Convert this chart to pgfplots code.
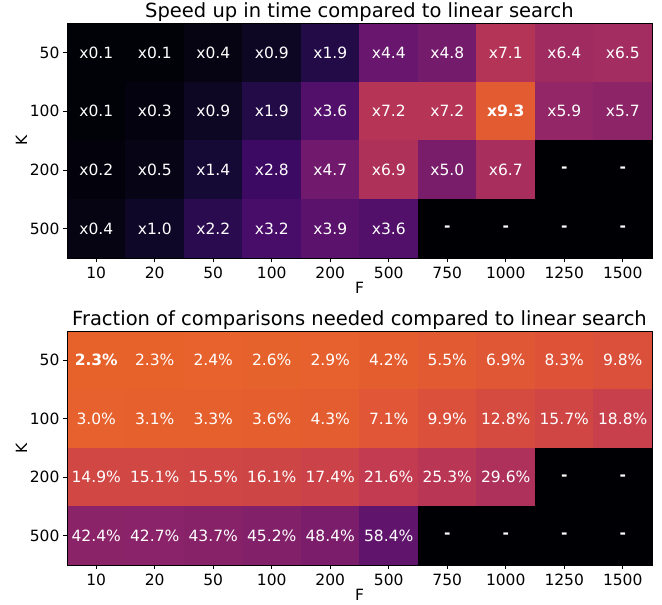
\documentclass[border=0pt]{standalone}
\usepackage{fontspec}
\setmainfont{DejaVu Sans}
\usepackage{pgfplots}
\usepackage{pgfplotstable}
\pgfplotsset{compat=1.18}

\pgfplotsset{
  colormap={inferno}{
    rgb255(0)=(0,0,4)
    rgb255(1)=(22,11,57)
    rgb255(2)=(66,10,104)
    rgb255(3)=(106,23,110)
    rgb255(4)=(147,38,103)
    rgb255(5)=(188,55,84)
    rgb255(6)=(221,81,58)
    rgb255(7)=(243,120,25)
    rgb255(8)=(252,165,10)
    rgb255(9)=(246,215,70)
    rgb255(10)=(252,255,164)
  }
}

% speed up (x, y, value); missing cells = 0
\pgfplotstableread{
x y c
0 0 0.1
1 0 0.1
2 0 0.4
3 0 0.9
4 0 1.9
5 0 4.4
6 0 4.8
7 0 7.1
8 0 6.4
9 0 6.5
0 1 0.1
1 1 0.3
2 1 0.9
3 1 1.9
4 1 3.6
5 1 7.2
6 1 7.2
7 1 9.3
8 1 5.9
9 1 5.7
0 2 0.2
1 2 0.5
2 2 1.4
3 2 2.8
4 2 4.7
5 2 6.9
6 2 5.0
7 2 6.7
8 2 0
9 2 0
0 3 0.4
1 3 1.0
2 3 2.2
3 3 3.2
4 3 3.9
5 3 3.6
6 3 0
7 3 0
8 3 0
9 3 0
}\speedtable

% fraction of comparisons (percent); missing cells = 100 (meta 100-f = 0)
\pgfplotstableread{
x y f
0 0 2.3
1 0 2.3
2 0 2.4
3 0 2.6
4 0 2.9
5 0 4.2
6 0 5.5
7 0 6.9
8 0 8.3
9 0 9.8
0 1 3.0
1 1 3.1
2 1 3.3
3 1 3.6
4 1 4.3
5 1 7.1
6 1 9.9
7 1 12.8
8 1 15.7
9 1 18.8
0 2 14.9
1 2 15.1
2 2 15.5
3 2 16.1
4 2 17.4
5 2 21.6
6 2 25.3
7 2 29.6
8 2 100
9 2 100
0 3 42.4
1 3 42.7
2 3 43.7
3 3 45.2
4 3 48.4
5 3 58.4
6 3 100
7 3 100
8 3 100
9 3 100
}\fractable

\pgfplotstableread{
x y t
0 0 x0.1
1 0 x0.1
2 0 x0.4
3 0 x0.9
4 0 x1.9
5 0 x4.4
6 0 x4.8
7 0 x7.1
8 0 x6.4
9 0 x6.5
0 1 x0.1
1 1 x0.3
2 1 x0.9
3 1 x1.9
4 1 x3.6
5 1 x7.2
6 1 x7.2
7 1 \textbf{x9.3}
8 1 x5.9
9 1 x5.7
0 2 x0.2
1 2 x0.5
2 2 x1.4
3 2 x2.8
4 2 x4.7
5 2 x6.9
6 2 x5.0
7 2 x6.7
8 2 \textbf{-}
9 2 \textbf{-}
0 3 x0.4
1 3 x1.0
2 3 x2.2
3 3 x3.2
4 3 x3.9
5 3 x3.6
6 3 \textbf{-}
7 3 \textbf{-}
8 3 \textbf{-}
9 3 \textbf{-}
}\speedlabels

\pgfplotstableread{
x y t
0 0 \textbf{2.3\%}
1 0 2.3\%
2 0 2.4\%
3 0 2.6\%
4 0 2.9\%
5 0 4.2\%
6 0 5.5\%
7 0 6.9\%
8 0 8.3\%
9 0 9.8\%
0 1 3.0\%
1 1 3.1\%
2 1 3.3\%
3 1 3.6\%
4 1 4.3\%
5 1 7.1\%
6 1 9.9\%
7 1 12.8\%
8 1 15.7\%
9 1 18.8\%
0 2 14.9\%
1 2 15.1\%
2 2 15.5\%
3 2 16.1\%
4 2 17.4\%
5 2 21.6\%
6 2 25.3\%
7 2 29.6\%
8 2 \textbf{-}
9 2 \textbf{-}
0 3 42.4\%
1 3 42.7\%
2 3 43.7\%
3 3 45.2\%
4 3 48.4\%
5 3 58.4\%
6 3 \textbf{-}
7 3 \textbf{-}
8 3 \textbf{-}
9 3 \textbf{-}
}\fraclabels

\pgfplotsset{
  heat/.style={
    scale only axis,
    width=585pt,
    xmin=-0.5, xmax=9.5, ymin=-0.5, ymax=3.5,
    y dir=reverse,
    enlargelimits=false,
    colormap name=inferno,
    axis on top,
    xtick={0,...,9},
    xticklabels={10,20,50,100,200,500,750,1000,1250,1500},
    ytick={0,...,3},
    yticklabels={50,100,200,500},
    tick pos=left,
    tick align=outside,
    major tick length=4pt,
    tick style={black, line width=0.6pt},
    axis line style={black, line width=0.8pt},
    ticklabel style={font=\fontsize{15.5}{18}\selectfont},
    xticklabel style={yshift=-1pt},
    label style={font=\fontsize{15.5}{18}\selectfont},
    xlabel={F}, ylabel={K},
    xlabel style={yshift=3pt},
    ylabel style={yshift=-4pt},
    title style={font=\fontsize{19.5}{22}\selectfont, yshift=-8pt},
    /pgf/number format/assume math mode=true,
  },
  celltext/.style={
    only marks, mark=none,
    nodes near coords,
    nodes near coords align={center},
    point meta=explicit symbolic,
    every node near coord/.append style={anchor=center, text=white,
      font=\fontsize{15.5}{18}\selectfont},
  },
}

\begin{document}
\begin{tikzpicture}
\useasboundingbox (0pt,0pt) rectangle (662pt,605pt);

\begin{axis}[heat,
  at={(67pt,347pt)}, anchor=south west,
  height=235pt,
  point meta min=0, point meta max=14.8,
  title={Speed up in time compared to linear search}]
  \addplot[matrix plot*, mesh/cols=10, point meta=explicit]
    table[x=x, y=y, meta=c] {\speedtable};
  \addplot[celltext] table[x=x, y=y, meta=t] {\speedlabels};
\end{axis}

\begin{axis}[heat,
  at={(67pt,40pt)}, anchor=south west,
  height=234pt,
  point meta min=0, point meta max=151.5,
  title={Fraction of comparisons needed compared to linear search}]
  \addplot[matrix plot*, mesh/cols=10, point meta={100-\thisrow{f}}]
    table[x=x, y=y] {\fractable};
  \addplot[celltext] table[x=x, y=y, meta=t] {\fraclabels};
\end{axis}
\end{tikzpicture}
\end{document}
